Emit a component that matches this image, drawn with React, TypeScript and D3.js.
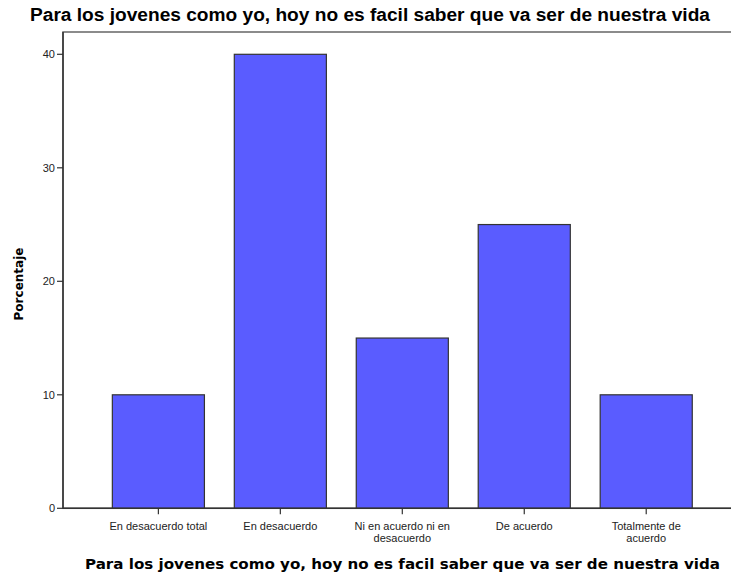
import React from "react";
import * as d3 from "d3";

const categories = [
  ["En desacuerdo total"],
  ["En desacuerdo"],
  ["Ni en acuerdo ni en", "desacuerdo"],
  ["De acuerdo"],
  ["Totalmente de", "acuerdo"],
];
const values = [10, 40, 15, 25, 10];
const yTicks = [0, 10, 20, 30, 40];
const title = "Para los jovenes como yo, hoy no es facil saber que va ser de nuestra vida";
const yTitle = "Porcentaje";

export default function App() {
  const W = 731, H = 581;
  const left = 63, right = 740, top = 32, bottom = 508.3;
  const y = d3.scaleLinear().domain([0, 40]).range([bottom, 54.3]);
  const x = d3.scaleBand<number>()
    .domain(d3.range(values.length))
    .range([97.4, 707.2])
    .paddingInner(0.245)
    .paddingOuter(0.1225);
  const font = "'Liberation Sans', Arial, sans-serif";
  return (
    <svg width={W} height={H} style={{ position: "absolute", left: 0, top: 0 }}>
      <rect width={W} height={H} fill="#fff" />
      <text x={30} y={21} textLength={680} lengthAdjust="spacingAndGlyphs" fontFamily={font} fontWeight="bold" fontSize={17.5} fill="#000">{title}</text>
      <rect x={left} y={top} width={right - left} height={bottom - top} fill="none" stroke="#666" strokeWidth={1.5} />
      {values.map((v, i) => (
        <rect key={i} x={x(i)} y={y(v)} width={x.bandwidth()} height={bottom - y(v)} fill="#5a5cff" stroke="#333" strokeWidth={1.2} />
      ))}
      <line x1={left} x2={right} y1={bottom} y2={bottom} stroke="#333" strokeWidth={1.5} />
      <line x1={left} x2={left} y1={top} y2={bottom} stroke="#333" strokeWidth={1.5} />
      {yTicks.map((t) => (
        <g key={t}>
          <line x1={left - 6} x2={left} y1={y(t)} y2={y(t)} stroke="#333" strokeWidth={1.2} />
          <text x={left - 8} y={y(t)} dy="0.35em" textAnchor="end" fontFamily={font} fontSize={11} fill="#222">{t}</text>
        </g>
      ))}
      {categories.map((lines, i) => {
        const cx = (x(i) as number) + x.bandwidth() / 2;
        return (
          <g key={i}>
            <line x1={cx} x2={cx} y1={bottom} y2={bottom + 6} stroke="#333" strokeWidth={1.2} />
            {lines.map((l, j) => (
              <text key={j} x={cx} y={bottom + 22 + j * 12} textAnchor="middle" fontFamily={font} fontSize={11} fill="#222">{l}</text>
            ))}
          </g>
        );
      })}
      <text x={85} y={569} textLength={635} lengthAdjust="spacingAndGlyphs" fontFamily="'DejaVu Sans', sans-serif" fontWeight="bold" fontSize={14.5} fill="#000">{title}</text>
      <text transform={`translate(23,284) rotate(-90)`} textAnchor="middle" fontFamily="'DejaVu Sans', sans-serif" fontWeight="bold" fontSize={12} fill="#000">{yTitle}</text>
    </svg>
  );
}
